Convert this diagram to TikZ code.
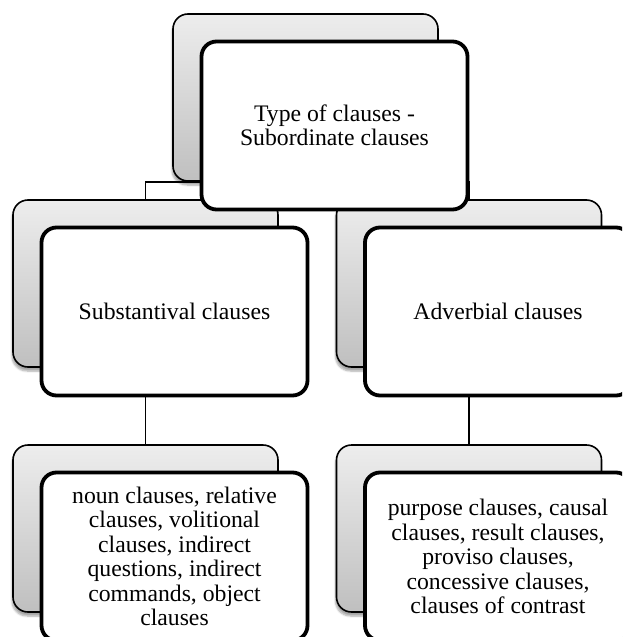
\documentclass[tikz,border=0pt]{standalone}
\usepackage{fontspec}
\setmainfont{Liberation Serif}
\usetikzlibrary{shadows.blur,backgrounds}
\tikzset{
  backbox/.style={draw, line width=1.6pt, rounded corners=15pt, top color=gray!14, bottom color=gray!50,
    minimum width=265pt, minimum height=167pt,
    blur shadow={shadow xshift=-1pt, shadow yshift=-4pt, shadow blur steps=6, shadow opacity=35}},
  frontbox/.style={draw, line width=3.8pt, rounded corners=15pt, fill=white,
    minimum width=266pt, minimum height=168pt, align=center, inner sep=2pt,
    font=\fontsize{23.7}{24.5}\selectfont},
  conn/.style={draw, line width=1.6pt},
}
\begin{document}
\begin{tikzpicture}[x=1pt,y=-1pt,line join=round]
  \def\dx{29}\def\dy{28}
  \path[use as bounding box] (0,0) rectangle (622,637);
  \clip (0,0) rectangle (622,637);
  % back cards
  \node[backbox] (typeB) at (305.5,97.5) {};
  \node[backbox] (subB) at (145.5,283.5) {};
  \node[backbox] (advB) at (469,283.5) {};
  \node[backbox] (nounB) at (145.5,528.5) {};
  \node[backbox] (purpB) at (469,528.5) {};
  % front cards
  \node[frontbox] (type) at ([shift={(\dx,\dy)}]typeB.center) {Type of clauses -\\Subordinate clauses};
  \node[frontbox] (sub) at ([shift={(\dx,\dy)}]subB.center) {Substantival clauses};
  \node[frontbox] (adv) at ([shift={(\dx,\dy)}]advB.center) {Adverbial clauses};
  \node[frontbox] (noun) at ([shift={(\dx,\dy)}]nounB.center) {noun clauses, relative\\clauses, volitional\\clauses, indirect\\questions, indirect\\commands, object\\clauses};
  \node[frontbox] (purp) at ([shift={(\dx,\dy)}]purpB.center) {purpose clauses, causal\\clauses, result clauses,\\proviso clauses,\\concessive clauses,\\clauses of contrast};
  % connectors
  \begin{scope}[on background layer]
    \coordinate (split) at (305.5,182);
    \draw[conn] (subB.north) |- (split) -| (advB.north);
    \draw[conn] (subB.south) -- (nounB.north);
    \draw[conn] (advB.south) -- (purpB.north);
  \end{scope}
\end{tikzpicture}
\end{document}
